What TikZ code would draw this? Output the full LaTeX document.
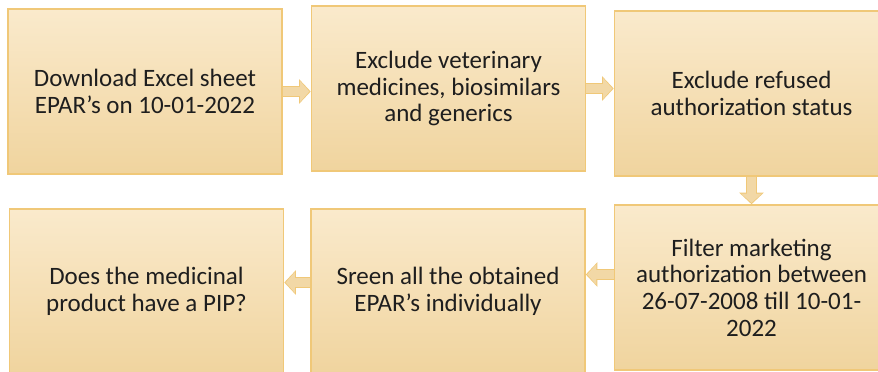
\documentclass[tikz,border=0pt]{standalone}
\usepackage{fontspec}
\setmainfont{Carlito}
\usetikzlibrary{arrows.meta, positioning}
\definecolor{BoxTop}{HTML}{FAEACC}
\definecolor{BoxBottom}{HTML}{F0D49E}
\definecolor{BoxEdge}{HTML}{F0C878}
\definecolor{ArrowFill}{HTML}{F2D8A6}
\definecolor{TextDark}{HTML}{1E1E1E}

\begin{document}
\begin{tikzpicture}[
    x=0.5pt, y=-0.5pt,
    flowbox/.style={
        draw=BoxEdge, line width=0.8pt,
        top color=BoxTop, bottom color=BoxBottom,
        minimum width=137pt, minimum height=82.5pt, align=center,
        text=TextDark, font=\fontsize{12.5}{13.3}\selectfont, inner sep=2pt
    },
    blockarr/.style={
        draw=ArrowFill, line width=4.2pt,
        -{Triangle[length=4.6pt, width=10.2pt]}, shorten >=0.7pt,
        preaction={draw=BoxEdge, line width=5.8pt, shorten >=0pt,
            -{Triangle[length=5.8pt, width=12pt]}}
    },
]

\useasboundingbox[fill=white] (0,0) rectangle (878,371);
\clip (0,0) rectangle (878,371);

%% top row
\node[flowbox] (download) at (145, 91.5)
    {Download Excel sheet\\EPAR’s on 10-01-2022};
\node[flowbox] (exvet) at (448.5, 88.5)
    {Exclude veterinary\\medicines, biosimilars\\and generics};
\node[flowbox] (exref) at (751.5, 93.5)
    {Exclude refused\\authorization status};

%% bottom row
\node[flowbox] (filter) at (751.5, 287.5)
    {Filter marketing\\authorization between\\26-07-2008 till 10-01-\\2022};
\node[flowbox] (screen) at (448, 291.5)
    {Sreen all the obtained\\EPAR’s individually};
\node[flowbox] (pip) at (146.5, 291.5)
    {Does the medicinal\\product have a PIP?};

%% arrows
\draw[blockarr] (download.east) -- (download.east -| exvet.west);
\draw[blockarr] (exvet.east) -- (exvet.east -| exref.west);
\draw[blockarr] (exref.south) -- (filter.north);
\draw[blockarr] ([yshift=6.5pt]filter.west) -- ([yshift=6.5pt]filter.west -| screen.east);
\draw[blockarr] ([yshift=4.5pt]screen.west) -- ([yshift=4.5pt]screen.west -| pip.east);

\end{tikzpicture}
\end{document}
